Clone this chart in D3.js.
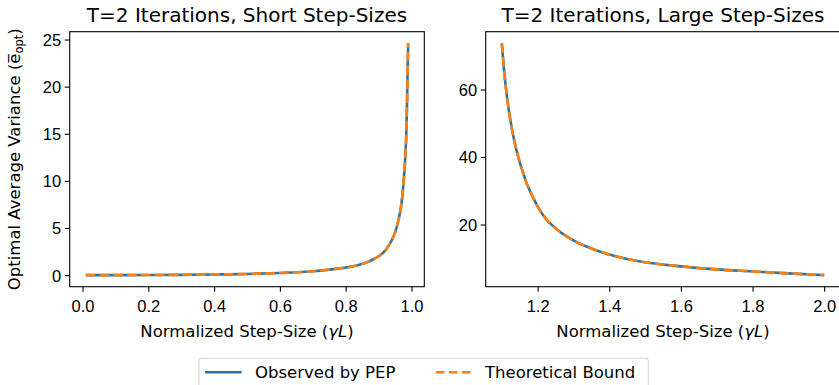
<!DOCTYPE html>
<html>
<head>
<meta charset="utf-8">
<style>
body { margin: 0; background: #fff; }
svg { display: block; font-family: "DejaVu Sans", sans-serif; }
.tick text { font-size: 16.5px; fill: #000; }
.tick line { stroke: #000; stroke-width: 1.1; }
</style>
</head>
<body>
<svg width="839" height="385"></svg>
<script src="https://cdn.jsdelivr.net/npm/d3@7"></script>
<script>

// short step-sizes (gamma*L < 1)
var shortGamma = [0.01, 0.1, 0.2, 0.3, 0.4, 0.5, 0.55, 0.6, 0.65, 0.7, 0.75, 0.8, 0.83, 0.86, 0.88, 0.9, 0.92, 0.94, 0.95, 0.96, 0.97, 0.975, 0.98, 0.985, 0.99];
var shortVal   = [0.0, 0.003, 0.012, 0.03, 0.067, 0.125, 0.17, 0.225, 0.30, 0.41, 0.58, 0.80, 1.0, 1.3, 1.6, 2.0, 2.6, 3.7, 4.5, 5.8, 7.7, 9.5, 11.8, 15.8, 24.6];

// large step-sizes (gamma*L > 1)
var largeGamma = [1.1, 1.105, 1.11, 1.12, 1.13, 1.14, 1.15, 1.16, 1.17, 1.18, 1.2, 1.22, 1.25, 1.3, 1.35, 1.4, 1.45, 1.5, 1.6, 1.7, 1.8, 1.9, 2.0];
var largeVal   = [73.7, 67.2, 61.8, 53.5, 47.3, 42.4, 38.5, 35.1, 32.0, 29.6, 25.4, 22.1, 18.9, 15.3, 12.9, 11.1, 9.8, 8.8, 7.6, 6.7, 6.1, 5.5, 5.0];

var shortXTicks = [0, 0.2, 0.4, 0.6, 0.8, 1.0];
var shortYTicks = [0, 5, 10, 15, 20, 25];
var largeXTicks = [1.2, 1.4, 1.6, 1.8, 2.0];
var largeYTicks = [20, 40, 60];

var seriesNames = ["Observed by PEP", "Theoretical Bound"];
var blue = "#1f77b4", orange = "#ff7f0e";

var svg = d3.select("svg");
var top0 = 31.7, bottom0 = 286.7, axW = 354.6;

function padded(vals) {
  var e = d3.extent(vals), m = (e[1] - e[0]) * 0.05;
  return [e[0] - m, e[1] + m];
}

function panel(left, xs, ys, xTicks, yTicks, title) {
  var g = svg.append("g").attr("transform", "translate(" + left + "," + top0 + ")");
  var h = bottom0 - top0;
  var x = d3.scaleLinear().domain(padded(xs)).range([0, axW]);
  var y = d3.scaleLinear().domain(padded(ys)).range([h, 0]);

  var data = xs.map(function(v, i) { return [v, ys[i]]; });
  var line = d3.line()
      .x(function(d) { return x(d[0]); })
      .y(function(d) { return y(d[1]); })
      .curve(d3.curveMonotoneX);

  g.append("path").datum(data)
      .attr("d", line).attr("fill", "none")
      .attr("stroke", blue).attr("stroke-width", 2.6);
  g.append("path").datum(data)
      .attr("d", line).attr("fill", "none")
      .attr("stroke", orange).attr("stroke-width", 2.6)
      .attr("stroke-dasharray", "9.6,4.2");

  var xa = g.append("g").attr("transform", "translate(0," + h + ")")
      .call(d3.axisBottom(x).tickValues(xTicks).tickFormat(d3.format(".1f"))
        .tickSize(5).tickSizeOuter(0).tickPadding(8.5));
  xa.select(".domain").remove();
  xa.selectAll(".tick text").attr("dy", "0.71em");

  var ya = g.append("g")
      .call(d3.axisLeft(y).tickValues(yTicks).tickFormat(d3.format("d"))
        .tickSize(5).tickSizeOuter(0).tickPadding(3.5));
  ya.select(".domain").remove();
  ya.selectAll(".tick text").attr("dy", "0.36em");

  g.append("rect")
      .attr("width", axW).attr("height", h)
      .attr("fill", "none").attr("stroke", "#000").attr("stroke-width", 1.1);

  g.append("text")
      .attr("x", axW / 2).attr("y", 21.7 - top0)
      .attr("text-anchor", "middle").style("font-size", "20px")
      .text(title);

  var xl = g.append("text")
      .attr("x", axW / 2).attr("y", 337.5 - top0)
      .attr("text-anchor", "middle").style("font-size", "16.5px");
  xl.append("tspan").text("Normalized Step-Size (");
  xl.append("tspan").style("font-style", "italic").text("\u03b3L");
  xl.append("tspan").text(")");
  return g;
}

panel(69.7, shortGamma, shortVal, shortXTicks, shortYTicks, "T=2 Iterations, Short Step-Sizes");
panel(485.7, largeGamma, largeVal, largeXTicks, largeYTicks, "T=2 Iterations, Large Step-Sizes");

// y label
var yl = svg.append("text")
    .attr("transform", "translate(19.5," + ((top0 + bottom0) / 2) + ") rotate(-90)")
    .attr("text-anchor", "middle").style("font-size", "16.5px");
yl.append("tspan").text("Optimal Average Variance (");
yl.append("tspan").text("e\u0305");
yl.append("tspan").attr("dy", 3).style("font-size", "11.5px").text("opt");
yl.append("tspan").attr("dy", -3).text(")");

// legend
var leg = svg.append("g");
leg.append("rect")
    .attr("x", 199).attr("y", 358.3).attr("width", 449.3).attr("height", 29)
    .attr("rx", 3).attr("fill", "#fff").attr("fill-opacity", 0.8)
    .attr("stroke", "#d6d6d6").attr("stroke-width", 1.1);
var items = [
  {x0: 205, x1: 241.7, tx: 255, color: blue, dash: null},
  {x0: 436, x1: 470.7, tx: 485, color: orange, dash: "8.5,4.5"}
];
items.forEach(function(it, i) {
  leg.append("line")
      .attr("x1", it.x0).attr("x2", it.x1).attr("y1", 372.3).attr("y2", 372.3)
      .attr("stroke", it.color).attr("stroke-width", 2.4)
      .attr("stroke-dasharray", it.dash);
  leg.append("text")
      .attr("x", it.tx).attr("y", 372.3).attr("dy", "0.36em")
      .style("font-size", "16.5px").text(seriesNames[i]);
});

</script>
</body>
</html>
